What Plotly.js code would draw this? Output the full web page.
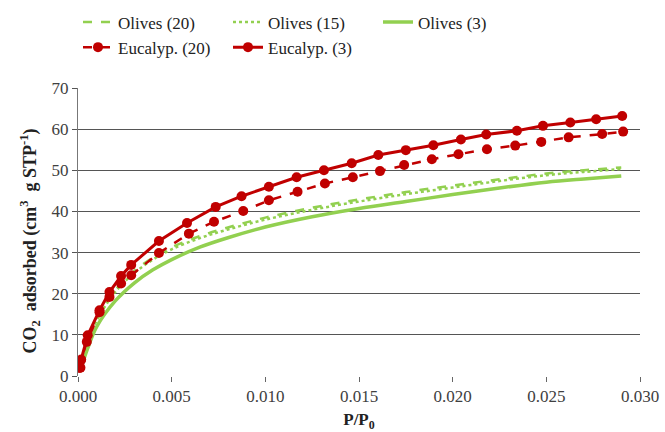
<!DOCTYPE html>
<html>
<head>
<meta charset="utf-8">
<script src="https://cdn.plot.ly/plotly-3.0.1.min.js"></script>
<style>html,body{margin:0;padding:0;background:#fff;}#chart{width:665px;height:432px;}</style>
</head>
<body>
<div id="chart"></div>
<script>
// Olive curves (smooth, no markers)
const olivesX = [0.0001, 0.0005, 0.001, 0.002, 0.003, 0.004, 0.005, 0.0065, 0.008, 0.010, 0.0125, 0.015, 0.0175, 0.020, 0.0225, 0.025, 0.027, 0.029];
const olives3  = [1.0, 6.5, 12.0, 18.3, 22.6, 25.8, 28.3, 31.3, 33.6, 36.2, 38.7, 40.7, 42.4, 44.1, 45.7, 47.1, 47.9, 48.6];
const olives15 = [1.5, 8.0, 13.5, 20.5, 25.0, 28.3, 30.8, 33.5, 35.6, 38.0, 40.4, 42.4, 44.2, 45.8, 47.4, 48.8, 49.6, 50.3];
const olives20 = [1.6, 8.3, 13.9, 20.9, 25.5, 28.8, 31.3, 34.0, 36.1, 38.5, 40.9, 42.9, 44.7, 46.3, 47.8, 49.2, 50.0, 50.7];

// Eucalyptus isotherms (with markers)
const euc3X = [0.00013, 0.00017, 0.00052, 0.00115, 0.00168, 0.00230, 0.00284, 0.00432, 0.00582, 0.00735, 0.00873, 0.01019, 0.01167, 0.01313, 0.01461, 0.01603, 0.01750, 0.01897, 0.02044, 0.02179, 0.02343, 0.02482, 0.02628, 0.02766, 0.02905];
const euc3Y = [2.0, 4.0, 9.9, 16.0, 20.4, 24.3, 27.0, 32.8, 37.2, 41.1, 43.7, 46.0, 48.3, 50.0, 51.7, 53.7, 54.9, 56.1, 57.5, 58.7, 59.6, 60.8, 61.6, 62.4, 63.2];
const euc20X = [0.00010, 0.00015, 0.00047, 0.00115, 0.00168, 0.00230, 0.00284, 0.00432, 0.00592, 0.00726, 0.00882, 0.01019, 0.01172, 0.01318, 0.01467, 0.01612, 0.01741, 0.01889, 0.02031, 0.02183, 0.02334, 0.02473, 0.02619, 0.02798, 0.02910];
const euc20Y = [2.0, 3.8, 8.3, 15.5, 19.2, 22.5, 24.5, 29.9, 34.6, 37.5, 40.1, 42.7, 44.8, 46.8, 48.3, 49.8, 51.3, 52.7, 53.9, 55.1, 56.0, 56.9, 58.0, 58.8, 59.4];

const xTicks = [0, 0.005, 0.010, 0.015, 0.020, 0.025, 0.030];
const xTickText = ["0.000", "0.005", "0.010", "0.015", "0.020", "0.025", "0.030"];
const yTicks = [0, 10, 20, 30, 40, 50, 60, 70];

const green = '#92d050';
const red = '#c00000';
const serif = "Liberation Serif";

const data = [
  {x: olivesX, y: olives20, name: 'Olives (20)', mode: 'lines', line: {color: green, width: 2.5, dash: 'dash', shape: 'spline'}},
  {x: olivesX, y: olives15, name: 'Olives (15)', mode: 'lines', line: {color: green, width: 2.5, dash: 'dot', shape: 'spline'}},
  {x: olivesX, y: olives3, name: 'Olives (3)', mode: 'lines', line: {color: green, width: 3.5, shape: 'spline'}},
  {x: euc20X, y: euc20Y, name: 'Eucalyp. (20)', mode: 'lines+markers', line: {color: red, width: 2.5, dash: 'dash'}, marker: {color: red, size: 10}},
  {x: euc3X, y: euc3Y, name: 'Eucalyp. (3)', mode: 'lines+markers', line: {color: red, width: 3}, marker: {color: red, size: 10}}
];

const layout = {
  width: 665, height: 432,
  margin: {l: 78, r: 25, t: 88, b: 56, autoexpand: false},
  paper_bgcolor: '#fff', plot_bgcolor: '#fff',
  font: {family: serif, size: 16, color: '#404040'},
  showlegend: true,
  legend: {
    orientation: 'h', x: 0, xanchor: 'left', y: 1.29, yanchor: 'top',
    entrywidth: 105, font: {family: serif, size: 17, color: '#222'},
    traceorder: 'normal', bgcolor: 'rgba(0,0,0,0)', tracegroupgap: 0
  },
  xaxis: {
    range: [0, 0.030], tickvals: xTicks, ticktext: xTickText,
    showgrid: false, zeroline: false, showline: false,
    ticks: 'outside', ticklen: 5, tickcolor: '#666',
    tickfont: {family: serif, size: 17, color: '#404040'},
    title: {text: '<b>P/P<sub>0</sub></b>', font: {family: serif, size: 17, color: '#222'}, standoff: 9}
  },
  yaxis: {
    range: [0, 70], tickvals: yTicks,
    showgrid: true, gridcolor: '#555', gridwidth: 1,
    zeroline: false, showline: true, linecolor: '#777', linewidth: 1,
    ticks: 'outside', ticklen: 5, tickcolor: '#555',
    tickfont: {family: serif, size: 17, color: '#404040'},
    title: {text: '<b>CO<sub>2</sub>  adsorbed (cm<sup>3</sup>  g STP<sup>-1</sup>)</b>&nbsp;&nbsp;&nbsp;&nbsp;', font: {family: serif, size: 18, color: '#222'}, standoff: 10}
  }
};

Plotly.newPlot('chart', data, layout, {displayModeBar: false, staticPlot: true});
</script>
</body>
</html>
